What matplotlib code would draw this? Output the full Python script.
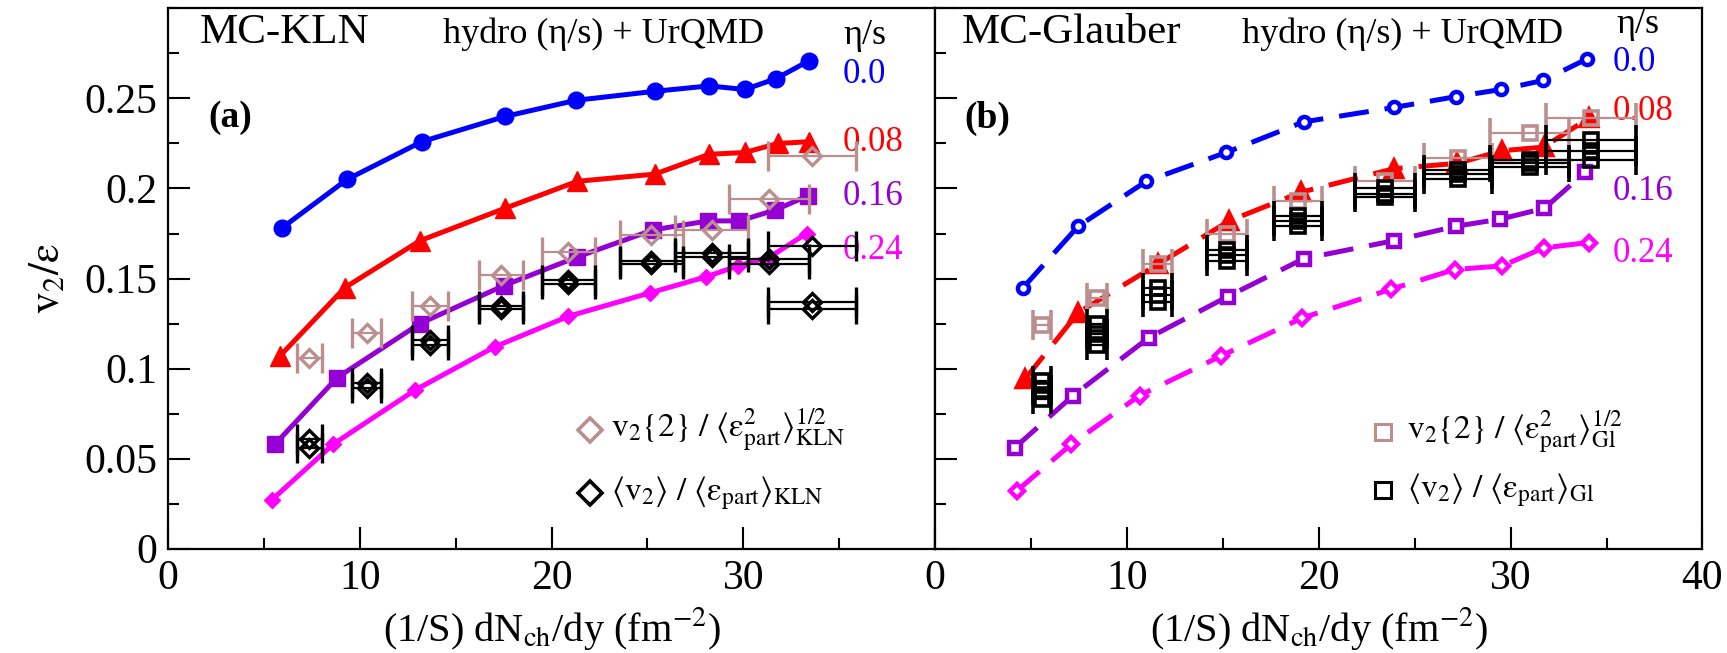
import matplotlib
matplotlib.use('Agg')
import matplotlib.pyplot as plt
from matplotlib.ticker import MultipleLocator

plt.rcParams['font.family'] = ['Liberation Serif', 'DejaVu Serif']
plt.rcParams['mathtext.fontset'] = 'stix'

BLUE = '#0000ff'
RED = '#ff0000'
PURPLE = '#9400d3'
MAGENTA = '#ff00ff'
BROWN = '#bc8f8f'

eta_labels = ['0.0', '0.08', '0.16', '0.24']

# ---- panel (a): MC-KLN, hydro + UrQMD curves
kln_x_00 = [5.93, 9.33, 13.23, 17.57, 21.28, 25.39, 28.22, 30.08, 31.70, 33.44]
kln_y_00 = [0.178, 0.205, 0.226, 0.240, 0.249, 0.254, 0.257, 0.255, 0.261, 0.271]
kln_x_08 = [5.84, 9.23, 13.14, 17.57, 21.35, 25.39, 28.22, 30.08, 31.79, 33.44]
kln_y_08 = [0.107, 0.145, 0.171, 0.189, 0.204, 0.208, 0.219, 0.220, 0.225, 0.226]
kln_x_16 = [5.58, 8.83, 13.14, 17.50, 21.35, 25.30, 28.17, 29.80, 31.65, 33.38]
kln_y_16 = [0.058, 0.095, 0.125, 0.146, 0.162, 0.177, 0.182, 0.182, 0.188, 0.196]
kln_x_24 = [5.41, 8.62, 12.88, 17.03, 20.88, 25.13, 28.08, 29.73, 31.39, 33.30]
kln_y_24 = [0.027, 0.058, 0.088, 0.112, 0.129, 0.142, 0.151, 0.157, 0.162, 0.175]

# panel (a) data points
kln_dx = [7.37, 10.36, 13.66, 17.38, 20.88, 25.20, 28.35, 31.35, 33.60]
kln_dxerr = [0.64, 0.75, 0.94, 1.15, 1.40, 1.65, 1.90, 2.10, 2.30]
kln_v2_2 = [0.106, 0.120, 0.135, 0.152, 0.165, 0.174, 0.177, 0.194, 0.218]
kln_mean_a = [0.061, 0.092, 0.116, 0.135, 0.149, 0.160, 0.164, 0.161, 0.168]
kln_mean_b = [0.056, 0.089, 0.113, 0.133, 0.147, 0.158, 0.162, 0.158, 0.137]
kln_extra_x = [33.60]
kln_extra_xerr = [2.30]
kln_extra_y = [0.133]

# ---- panel (b): MC-Glauber
gl_x_00 = [4.60, 7.46, 11.01, 15.17, 19.21, 23.92, 27.13, 29.50, 31.69, 33.98]
gl_y_00 = [0.145, 0.179, 0.204, 0.220, 0.237, 0.245, 0.251, 0.255, 0.260, 0.272]
gl_x_08 = [4.68, 7.46, 11.62, 15.34, 19.10, 23.92, 27.22, 29.56, 31.72, 34.06]
gl_y_08 = [0.094, 0.131, 0.158, 0.182, 0.198, 0.211, 0.214, 0.221, 0.223, 0.239]
gl_x_16 = [4.16, 7.20, 11.13, 15.26, 19.21, 23.92, 27.13, 29.47, 31.76, 33.89]
gl_y_16 = [0.056, 0.085, 0.117, 0.140, 0.161, 0.171, 0.179, 0.183, 0.189, 0.209]
gl_x_24 = [4.26, 7.11, 10.66, 14.91, 19.12, 23.75, 27.08, 29.56, 31.72, 34.06]
gl_y_24 = [0.032, 0.058, 0.085, 0.107, 0.128, 0.144, 0.155, 0.157, 0.167, 0.170]

gl_dx = [5.60, 8.46, 11.60, 15.20, 18.90, 23.45, 27.25, 30.99, 34.19]
gl_dxerr = [0.47, 0.52, 0.75, 1.04, 1.25, 1.55, 1.78, 2.04, 2.35]
gl_v2_2 = [0.124, 0.139, 0.158, 0.175, 0.193, 0.204, 0.217, 0.231, 0.239]
gl_mean_a = [0.093, 0.125, 0.145, 0.166, 0.185, 0.200, 0.210, 0.216, 0.227]
gl_mean_b = [0.088, 0.119, 0.141, 0.163, 0.182, 0.197, 0.208, 0.214, 0.221]
gl_mean_c = [0.083, 0.113, 0.137, 0.160, 0.179, 0.195, 0.205, 0.212, 0.216]

fig = plt.figure(figsize=(17.27, 6.53), dpi=100)
ax1 = fig.add_axes([0.0973, 0.16, 0.4441, 0.827])
ax2 = fig.add_axes([0.5414, 0.16, 0.4444, 0.827])

colors = [BLUE, RED, PURPLE, MAGENTA]
markers = ['o', '^', 's', 'D']
sizes_a = [12, 14, 12, 8.5]
sizes_b = [8, 12, 9, 7]

kln_curves = [(kln_x_00, kln_y_00), (kln_x_08, kln_y_08), (kln_x_16, kln_y_16), (kln_x_24, kln_y_24)]
gl_curves = [(gl_x_00, gl_y_00), (gl_x_08, gl_y_08), (gl_x_16, gl_y_16), (gl_x_24, gl_y_24)]

for (x, y), c, m, s in zip(kln_curves, colors, markers, sizes_a):
    ax1.plot(x, y, '-', color=c, lw=3.6, marker=m, ms=s, mec=c, mfc=c, zorder=3)

for (x, y), c, m, s in zip(gl_curves, colors, markers, sizes_b):
    face = c if m == '^' else 'white'
    ax2.plot(x, y, color=c, lw=3.6, dashes=(6, 3.2), marker=m, ms=s, mec=c, mfc=face,
             mew=3.2, zorder=3)

err_kw = dict(ls='none', elinewidth=1.6, capsize=11, capthick=1.6, zorder=4)

ax1.errorbar(kln_dx, kln_v2_2, xerr=kln_dxerr, marker='D', ms=9.5, mfc='none', mec=BROWN,
             mew=2.4, ecolor=BROWN, **err_kw)
for yy in (kln_mean_a, kln_mean_b):
    ax1.errorbar(kln_dx, yy, xerr=kln_dxerr, marker='D', ms=9.5, mfc='none', mec='black',
                 mew=2.4, ecolor='black', **err_kw)
ax1.errorbar(kln_extra_x, kln_extra_y, xerr=kln_extra_xerr, marker='D', ms=9.5, mfc='none',
             mec='black', mew=2.4, ecolor='black', **err_kw)

ax2.errorbar(gl_dx, gl_v2_2, xerr=gl_dxerr, marker='s', ms=10.5, mfc='none', mec=BROWN,
             mew=2.6, ecolor=BROWN, **err_kw)
for yy in (gl_mean_a, gl_mean_b, gl_mean_c):
    ax2.errorbar(gl_dx, yy, xerr=gl_dxerr, marker='s', ms=9.5, mfc='none', mec='black',
                 mew=2.6, ecolor='black', **err_kw)

for ax in (ax1, ax2):
    ax.set_xlim(0, 40)
    ax.set_ylim(0, 0.3)
    ax.xaxis.set_major_locator(MultipleLocator(10))
    ax.xaxis.set_minor_locator(MultipleLocator(5))
    ax.yaxis.set_major_locator(MultipleLocator(0.05))
    ax.yaxis.set_minor_locator(MultipleLocator(0.025))
    ax.tick_params(which='both', direction='in', top=False, right=False, width=1.5,
                   labelsize=30, pad=8)
    ax.tick_params(which='major', length=16)
    ax.tick_params(which='minor', length=8)
    for sp in ax.spines.values():
        sp.set_linewidth(1.6)
    ax.set_xlabel(r'(1/S) dN$_{\mathrm{ch}}$/dy (fm$^{-2}$)', fontsize=29)
    ax.xaxis.set_label_coords(0.5, -0.105)

ax1.set_xticks([0, 10, 20, 30, 40])
ax1.set_xticklabels(['0', '10', '20', '30', ''])
ax1.set_yticks([0, 0.05, 0.1, 0.15, 0.2, 0.25])
ax1.set_yticklabels(['0', '0.05', '0.1', '0.15', '0.2', '0.25'])
ax2.set_yticklabels([])
ax1.set_ylabel(r'$\mathrm{v}_2/\mathrm{\varepsilon}$', fontsize=31)
ax1.yaxis.set_label_coords(-0.13, 0.5)

# header texts
ax1.text(0.042, 0.955, 'MC-KLN', transform=ax1.transAxes, fontsize=31, va='center')
ax1.text(0.3585, 0.952, 'hydro (η/s) + UrQMD', transform=ax1.transAxes, fontsize=26,
         va='center')
ax1.text(0.88, 0.950, 'η/s', transform=ax1.transAxes, fontsize=26, va='center')
ax1.text(0.052, 0.799, '(a)', transform=ax1.transAxes, fontsize=27, fontweight='bold',
         va='center')

ax2.text(0.0347, 0.955, 'MC-Glauber', transform=ax2.transAxes, fontsize=31, va='center')
ax2.text(0.3995, 0.952, 'hydro (η/s) + UrQMD', transform=ax2.transAxes, fontsize=26,
         va='center')
ax2.text(0.888, 0.970, 'η/s', transform=ax2.transAxes, fontsize=26, va='center')
ax2.text(0.038, 0.796, '(b)', transform=ax2.transAxes, fontsize=27, fontweight='bold',
         va='center')

pos_a = [0.877, 0.751, 0.651, 0.551]
pos_b = [0.900, 0.809, 0.662, 0.547]
for lab, c, ya, yb in zip(eta_labels, colors, pos_a, pos_b):
    ax1.text(0.88, ya, lab, transform=ax1.transAxes, color=c, fontsize=25, va='center')
    ax2.text(0.8835, yb, lab, transform=ax2.transAxes, color=c, fontsize=25, va='center')

# legends
eps = r'\mathrm{\varepsilon}'
leg_a = [r'$\mathrm{v}_2\{2\}\ /\ \langle' + eps + r'^{2}_{\mathrm{part}}\rangle^{1/2}_{\mathrm{KLN}}$',
         r'$\langle\mathrm{v}_2\rangle\ /\ \langle' + eps + r'_{\mathrm{part}}\rangle_{\mathrm{KLN}}$']
leg_b = [r'$\mathrm{v}_2\{2\}\ /\ \langle' + eps + r'^{2}_{\mathrm{part}}\rangle^{1/2}_{\mathrm{Gl}}$',
         r'$\langle\mathrm{v}_2\rangle\ /\ \langle' + eps + r'_{\mathrm{part}}\rangle_{\mathrm{Gl}}$']
for lab, c, yl in zip(leg_a, [BROWN, 'black'], [0.219, 0.103]):
    ax1.plot([0.55], [yl], transform=ax1.transAxes, ls='none', marker='D', ms=12.5,
             mfc='none', mec=c, mew=2.6, clip_on=False)
    ax1.text(0.578, yl, lab, transform=ax1.transAxes, fontsize=24, va='center')
for lab, c, yl in zip(leg_b, [BROWN, 'black'], [0.216, 0.108]):
    ax2.plot([0.584], [yl], transform=ax2.transAxes, ls='none', marker='s', ms=12,
             mfc='none', mec=c, mew=2.2, clip_on=False)
    ax2.text(0.615, yl, lab, transform=ax2.transAxes, fontsize=24, va='center')

fig.savefig('out.png', dpi=100)
